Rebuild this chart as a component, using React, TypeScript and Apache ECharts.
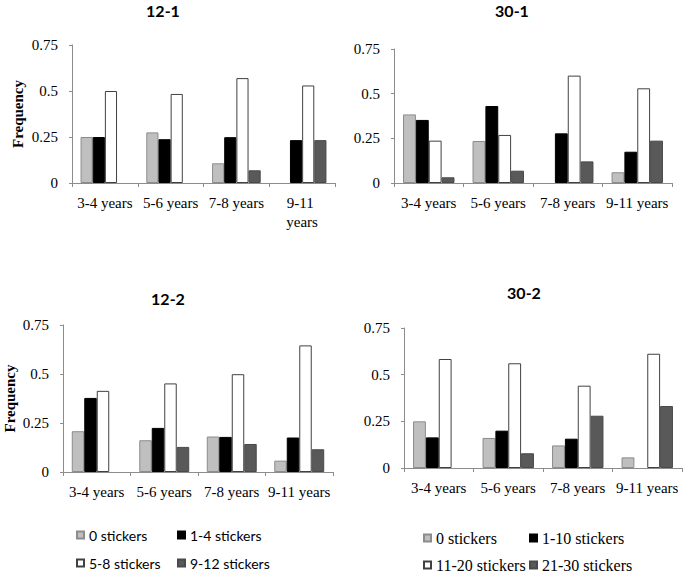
import React, { useEffect, useRef } from "react";
import * as echarts from "echarts";

// ---- data ----
const categories = ["3-4 years", "5-6 years", "7-8 years", "9-11 years"];
const panelTitles = ["12-1", "30-1", "12-2", "30-2"];
const names12 = ["0 stickers", "1-4 stickers", "5-8 stickers", "9-12 stickers"];
const names30 = ["0 stickers", "1-10 stickers", "11-20 stickers", "21-30 stickers"];
const yMin = 0;
const yMax = 0.75;
const yStep = 0.25;

// panel 12-1
const p121_s0 = [0.25, 0.275, 0.107, 0];
const p121_s1 = [0.25, 0.238, 0.249, 0.233];
const p121_s2 = [0.5, 0.484, 0.57, 0.53];
const p121_s3 = [0, 0, 0.069, 0.233];

// panel 30-1
const p301_s0 = [0.384, 0.235, 0, 0.06];
const p301_s1 = [0.353, 0.431, 0.278, 0.175];
const p301_s2 = [0.237, 0.269, 0.601, 0.53];
const p301_s3 = [0.032, 0.069, 0.121, 0.237];

// panel 12-2
const p122_s0 = [0.208, 0.162, 0.181, 0.058];
const p122_s1 = [0.378, 0.225, 0.179, 0.176];
const p122_s2 = [0.414, 0.452, 0.499, 0.646];
const p122_s3 = [0, 0.128, 0.143, 0.116];

// panel 30-2
const p302_s0 = [0.25, 0.161, 0.121, 0.057];
const p302_s1 = [0.164, 0.2, 0.157, 0];
const p302_s2 = [0.584, 0.561, 0.441, 0.612];
const p302_s3 = [0, 0.079, 0.28, 0.332];

// ---- styles / layout ----
const SERIF = "Liberation Serif";
const SANS = "Lato";
const barStyles = [
  { color: "#BFBFBF", borderColor: "#8C8C8C", borderWidth: 1 },
  { color: "#000000", borderColor: "#000000", borderWidth: 1 },
  { color: "#FFFFFF", borderColor: "#404040", borderWidth: 1 },
  { color: "#595959", borderColor: "#4A4A4A", borderWidth: 1 },
];
const grids = [
  { left: 72, top: 45, width: 263, height: 138 },
  { left: 394, top: 49, width: 278, height: 134 },
  { left: 63, top: 325, width: 270, height: 147 },
  { left: 404, top: 328, width: 278, height: 140 },
];
const titlePos = [
  { x: 163, y: 2 },
  { x: 512, y: 2 },
  { x: 168, y: 290 },
  { x: 524, y: 284 },
];

export default function App() {
  const ref = useRef<HTMLDivElement>(null);
  useEffect(() => {
    if (!ref.current) return;
    const chart = echarts.init(ref.current, undefined, { renderer: "svg" });
    const panelData = [
      { names: names12, values: [p121_s0, p121_s1, p121_s2, p121_s3] },
      { names: names30, values: [p301_s0, p301_s1, p301_s2, p301_s3] },
      { names: names12, values: [p122_s0, p122_s1, p122_s2, p122_s3] },
      { names: names30, values: [p302_s0, p302_s1, p302_s2, p302_s3] },
    ];
    const series: any[] = [];
    panelData.forEach((p, pi) => {
      p.values.forEach((vals, si) => {
        series.push({
          type: "bar",
          name: p.names[si],
          xAxisIndex: pi,
          yAxisIndex: pi,
          data: vals.map((v) => (v === 0 ? { value: v, itemStyle: { borderWidth: 0 } } : v)),
          barGap: "0%",
          barCategoryGap: "26%",
          itemStyle: barStyles[si],
          emphasis: { disabled: true },
        });
      });
    });
    const axisLine = { show: true, lineStyle: { color: "#8C8C8C", width: 1 } };
    const legendBase = {
      orient: "vertical",
      padding: 0,
      icon: "rect",
      itemWidth: 7,
      itemHeight: 7,
      selectedMode: false,
    };
    const option: any = {
      animation: false,
      backgroundColor: "#ffffff",
      textStyle: { fontFamily: SERIF },
      title: panelTitles.map((t, i) => ({
        text: t,
        left: titlePos[i].x,
        top: titlePos[i].y,
        textAlign: "center",
        padding: 0,
        textStyle: { fontFamily: SANS, fontWeight: "bold", fontSize: 16, color: "#000" },
      })),
      grid: grids.map((g) => ({ ...g, containLabel: false })),
      xAxis: grids.map((_, i) => ({
        type: "category",
        gridIndex: i,
        data: categories,
        z: 3,
        axisLine,
        axisTick: { show: true, length: 4, lineStyle: { color: "#8C8C8C" } },
        axisLabel: {
          interval: 0,
          margin: 10,
          fontFamily: SERIF,
          fontSize: 15,
          color: "#000",
          lineHeight: 19,
          ...(i === 0 ? { width: 62, overflow: "break" } : {}),
        },
      })),
      yAxis: grids.map((_, i) => ({
        type: "value",
        gridIndex: i,
        min: yMin,
        max: yMax,
        interval: yStep,
        z: 3,
        axisLine,
        axisTick: { show: true, length: 3, lineStyle: { color: "#8C8C8C" } },
        splitLine: { show: false },
        axisLabel: { margin: 14, fontFamily: SERIF, fontSize: 15, color: "#000" },
        ...(i === 0 || i === 2
          ? {
              name: "Frequency",
              nameLocation: "middle",
              nameRotate: 90,
              nameGap: i === 0 ? 47 : 46,
              nameTextStyle: { fontFamily: SERIF, fontWeight: "bold", fontSize: 15, color: "#000" },
            }
          : {}),
      })),
      legend: [
        { ...legendBase, data: [names12[0], names12[2]], left: 76, top: 527, itemGap: 12,
          textStyle: { fontFamily: SANS, fontSize: 14, lineHeight: 16, color: "#000" } },
        { ...legendBase, data: [names12[1], names12[3]], left: 177, top: 527, itemGap: 12,
          textStyle: { fontFamily: SANS, fontSize: 14, lineHeight: 16, color: "#000" } },
        { ...legendBase, data: [names30[0], names30[2]], left: 423, top: 530, itemGap: 11,
          textStyle: { fontFamily: SERIF, fontSize: 16, lineHeight: 16, color: "#000" } },
        { ...legendBase, data: [names30[1], names30[3]], left: 529, top: 530, itemGap: 11,
          textStyle: { fontFamily: SERIF, fontSize: 16, lineHeight: 16, color: "#000" } },
      ],
      series,
    };
    chart.setOption(option);
    return () => chart.dispose();
  }, []);
  return (
    <div
      ref={ref}
      style={{ position: "absolute", left: 0, top: 0, width: 684, height: 573 }}
    />
  );
}
